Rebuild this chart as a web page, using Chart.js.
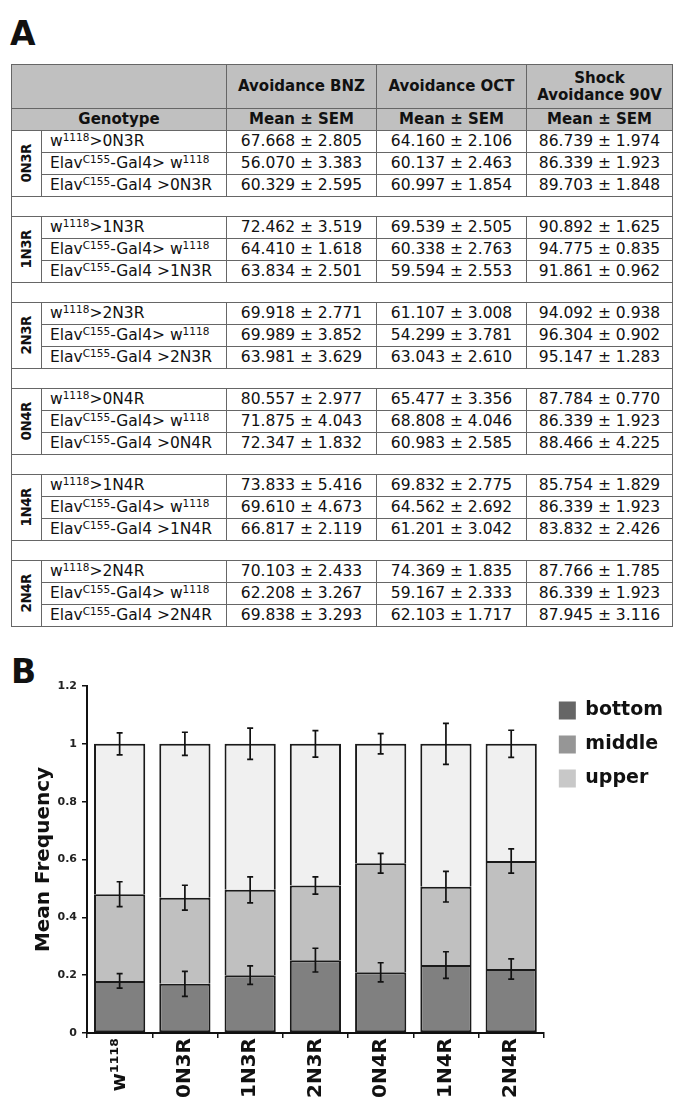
<!DOCTYPE html>
<html>
<head>
<meta charset="utf-8">
<script src="https://cdn.jsdelivr.net/npm/chart.js@4.4.0/dist/chart.umd.min.js"></script>
<style>
  html, body { margin: 0; padding: 0; background: #fff; overflow: hidden; }
  body { width: 675px; height: 1097px; position: relative; font-family: "DejaVu Sans", Verdana, sans-serif; color: #111; }
  .panel { position: absolute; font-weight: bold; font-size: 33px; line-height: 1; }
  #tbl { position: absolute; left: 11px; top: 64px; width: 661px; border-collapse: collapse; table-layout: fixed; font-size: 15.5px; border: 1.5px solid #444; }
  #tbl td, #tbl th { border: 1px solid #666; padding: 0; line-height: 1.1; }
  #tbl th { background: #c0c0c0; font-weight: bold; text-align: center; font-size: 15px; }
  #tbl tr.h1 { height: 44px; }
  #tbl tr.h2 { height: 22px; }
  #tbl tr.d { height: 22px; }
  #tbl tr.gap { height: 20px; }
  #tbl td.val { text-align: center; }
  #tbl td.gen { padding-left: 8px; white-space: nowrap; }
  #tbl td.grp { text-align: center; vertical-align: middle; }
  #tbl td.grp div { writing-mode: vertical-rl; transform: rotate(180deg); font-weight: bold; font-size: 13.5px; letter-spacing: -0.5px; margin: 0 auto; }
  sup { font-size: 10.5px; line-height: 0; vertical-align: 5px; }
  #chartBox { position: absolute; left: 0; top: 640px; width: 675px; height: 460px; }
</style>
</head>
<body>
<div class="panel" style="left:10px; top:17px;">A</div>
<table id="tbl">
  <colgroup><col style="width:30px"><col style="width:185px"><col style="width:150px"><col style="width:150px"><col style="width:146px"></colgroup>
  <tbody id="tbody"></tbody>
</table>
<div class="panel" style="left:11px; top:655px;">B</div>
<div id="chartBox"><canvas id="freq"></canvas></div>
<script>
// Table A
const groups = ["0N3R", "1N3R", "2N3R", "0N4R", "1N4R", "2N4R"];

const bnzMean = [67.668, 56.070, 60.329, 72.462, 64.410, 63.834, 69.918, 69.989, 63.981,
                 80.557, 71.875, 72.347, 73.833, 69.610, 66.817, 70.103, 62.208, 69.838];
const bnzSem  = [2.805, 3.383, 2.595, 3.519, 1.618, 2.501, 2.771, 3.852, 3.629,
                 2.977, 4.043, 1.832, 5.416, 4.673, 2.119, 2.433, 3.267, 3.293];
const octMean = [64.160, 60.137, 60.997, 69.539, 60.338, 59.594, 61.107, 54.299, 63.043,
                 65.477, 68.808, 60.983, 69.832, 64.562, 61.201, 74.369, 59.167, 62.103];
const octSem  = [2.106, 2.463, 1.854, 2.505, 2.763, 2.553, 3.008, 3.781, 2.610,
                 3.356, 4.046, 2.585, 2.775, 2.692, 3.042, 1.835, 2.333, 1.717];
const shockMean = [86.739, 86.339, 89.703, 90.892, 94.775, 91.861, 94.092, 96.304, 95.147,
                   87.784, 86.339, 88.466, 85.754, 86.339, 83.832, 87.766, 86.339, 87.945];
const shockSem  = [1.974, 1.923, 1.848, 1.625, 0.835, 0.962, 0.938, 0.902, 1.283,
                   0.770, 1.923, 4.225, 1.829, 1.923, 2.426, 1.785, 1.923, 3.116];

// Chart B
const categories = ["w\u00b9\u00b9\u00b9\u2078", "0N3R", "1N3R", "2N3R", "0N4R", "1N4R", "2N4R"];
const bottom = [0.180, 0.170, 0.200, 0.252, 0.210, 0.235, 0.221];
const middle = [0.300, 0.298, 0.295, 0.258, 0.377, 0.271, 0.374];
const upper  = [0.520, 0.532, 0.505, 0.490, 0.413, 0.494, 0.405];
const errBottom = [0.025, 0.043, 0.032, 0.041, 0.033, 0.046, 0.035];
const errMiddle = [0.043, 0.043, 0.045, 0.030, 0.034, 0.053, 0.042];
const errUpper  = [0.038, 0.040, 0.054, 0.046, 0.035, 0.071, 0.047];

const barColors = ["#808080", "#c0c0c0", "#f0f0f0"];
const legendColors = ["#666666", "#969696", "#c8c8c8"];

// build the table
const fmt = (m, s) => m.toFixed(3) + " \u00b1 " + s.toFixed(3);
const W = "w<sup>1118</sup>", ELAV = "Elav<sup>C155</sup>-Gal4";
let html = '<tr class="h1"><th colspan="2"></th><th>Avoidance BNZ</th><th>Avoidance OCT</th><th>Shock<br>Avoidance 90V</th></tr>' +
  '<tr class="h2"><th colspan="2">Genotype</th><th>Mean \u00b1 SEM</th><th>Mean \u00b1 SEM</th><th>Mean \u00b1 SEM</th></tr>';
groups.forEach((g, gi) => {
  const names = [W + "&gt;" + g, ELAV + "&gt; " + W, ELAV + " &gt;" + g];
  names.forEach((n, k) => {
    const r = gi * 3 + k;
    html += '<tr class="d">' + (k === 0 ? '<td class="grp" rowspan="3"><div>' + g + '</div></td>' : '') +
      '<td class="gen">' + n + '</td>' +
      '<td class="val">' + fmt(bnzMean[r], bnzSem[r]) + '</td>' +
      '<td class="val">' + fmt(octMean[r], octSem[r]) + '</td>' +
      '<td class="val">' + fmt(shockMean[r], shockSem[r]) + '</td></tr>';
  });
  if (gi < groups.length - 1) html += '<tr class="gap"><td colspan="5"></td></tr>';
});
document.getElementById("tbody").innerHTML = html;

// error bars drawn at the top of each stacked segment
const errors = [errBottom, errMiddle, errUpper];
const errorBars = {
  id: "errorBars",
  afterDatasetsDraw(chart) {
    const ctx = chart.ctx, ys = chart.scales.y;
    ctx.save();
    ctx.strokeStyle = "#111";
    ctx.lineWidth = 1.7;
    chart.data.datasets.forEach((ds, i) => {
      chart.getDatasetMeta(i).data.forEach((bar, j) => {
        const d = Math.abs(ys.getPixelForValue(errors[i][j]) - ys.getPixelForValue(0));
        ctx.beginPath();
        ctx.moveTo(bar.x, bar.y - d); ctx.lineTo(bar.x, bar.y + d);
        ctx.moveTo(bar.x - 3, bar.y - d); ctx.lineTo(bar.x + 3, bar.y - d);
        ctx.moveTo(bar.x - 3, bar.y + d); ctx.lineTo(bar.x + 3, bar.y + d);
        ctx.stroke();
      });
    });
    ctx.restore();
  }
};

const FONT = "DejaVu Sans";
const fullBorder = { top: 2, left: 2, right: 2, bottom: 2 };
const openBottom = { top: 2, left: 2, right: 2, bottom: 0 };
new Chart(document.getElementById("freq"), {
  type: "bar",
  data: {
    labels: categories,
    datasets: [
      { label: "bottom", data: bottom, backgroundColor: barColors[0], borderWidth: fullBorder },
      { label: "middle", data: middle, backgroundColor: barColors[1], borderWidth: openBottom },
      { label: "upper", data: upper, backgroundColor: barColors[2], borderWidth: openBottom },
    ],
  },
  options: {
    responsive: true,
    maintainAspectRatio: false,
    animation: false,
    layout: { padding: { top: 46, right: 2, left: 0, bottom: 0 } },
    datasets: {
      bar: { borderColor: "#1a1a1a", borderSkipped: false, barPercentage: 1, categoryPercentage: 0.785 },
    },
    plugins: {
      tooltip: { enabled: false },
      legend: {
        position: "right",
        align: "start",
        labels: {
          font: { family: FONT, size: 19, weight: "bold" },
          color: "#111",
          boxWidth: 17,
          boxHeight: 18,
          padding: 15,
          generateLabels: (chart) => chart.data.datasets.map((ds, i) => ({
            text: ds.label, fillStyle: legendColors[i], strokeStyle: legendColors[i],
            lineWidth: 0, hidden: false, datasetIndex: i, fontColor: "#111",
          })),
        },
      },
    },
    scales: {
      x: {
        stacked: true,
        grid: { offset: true, drawOnChartArea: false, color: "#111", lineWidth: 1.5, tickLength: 5 },
        border: { color: "#111", width: 2 },
        ticks: { maxRotation: 90, minRotation: 90, padding: 0, color: "#111", font: { family: FONT, size: 20, weight: "bold" } },
        afterFit: (s) => { s.height = 67; },
      },
      y: {
        stacked: true,
        min: 0,
        max: 1.2,
        grid: { drawOnChartArea: false, color: "#111", lineWidth: 1.5, tickLength: 5 },
        border: { color: "#111", width: 2 },
        ticks: {
          stepSize: 0.2, padding: 5, color: "#222",
          font: { family: FONT, size: 11, weight: "bold" },
          callback: (v) => String(Number(v.toFixed(1))),
        },
        title: {
          display: true, text: "Mean Frequency", color: "#111",
          font: { family: FONT, size: 20, weight: "bold" },
          padding: { top: 32, bottom: 0 },
        },
        afterFit: (s) => { s.width = 87; },
      },
    },
  },
  plugins: [errorBars],
});
</script>
</body>
</html>
